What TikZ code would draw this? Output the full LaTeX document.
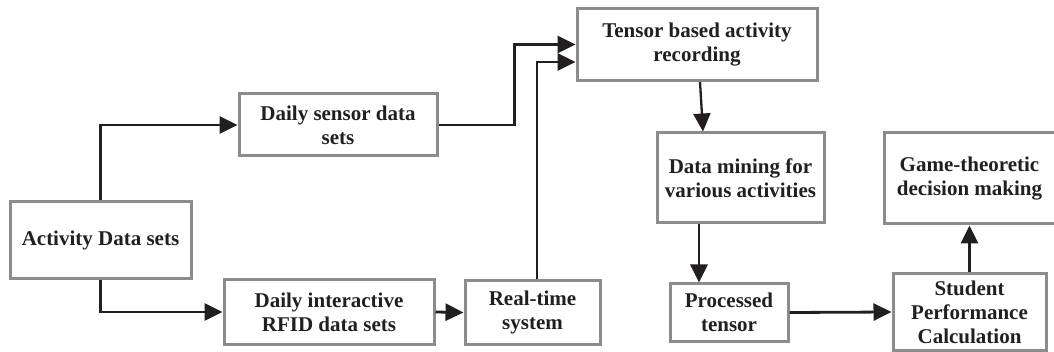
\documentclass[tikz,border=0pt]{standalone}
\usepackage{fontspec}
\setmainfont{Liberation Serif}
\usetikzlibrary{arrows.meta}
\definecolor{ink}{HTML}{231F20}
\definecolor{frame}{HTML}{8C8C8C}
\tikzset{
  stage/.style={draw=frame, line width=3pt, rectangle, inner sep=0pt,
    align=center, text=ink,
    font=\fontsize{21pt}{24pt}\selectfont\bfseries},
  flow/.style={draw=ink, line width=2.8pt,
    -{Triangle[length=18pt,width=17pt]}, fill=none}
}
\begin{document}
\begin{tikzpicture}[x=1pt,y=-1pt]
\useasboundingbox (0,0) rectangle (1054,352);

% process stages
\node[stage, minimum width=181pt, minimum height=77pt] (act) at (100.5,240.5) {Activity Data sets};
\node[stage, minimum width=198pt, minimum height=62pt] (sensor) at (338,125) {Daily sensor data\\sets};
\node[stage, minimum width=210pt, minimum height=64pt] (rfid) at (329,312) {Daily interactive\\RFID data sets};
\node[stage, minimum width=135pt, minimum height=63pt] (rt) at (532.5,312.5) {Real-time\\system};
\node[stage, minimum width=240pt, minimum height=72pt] (tensor) at (697,44.5) {Tensor based activity\\recording};
\node[stage, minimum width=167pt, minimum height=90pt] (mining) at (740.5,178) {Data mining for\\various activities};
\node[stage, minimum width=118pt, minimum height=57pt] (proc) at (729,312.5) {Processed\\tensor};
\node[stage, minimum width=153pt, minimum height=76pt] (student) at (969.5,312) {Student\\Performance\\Calculation};
\node[stage, minimum width=171pt, minimum height=91pt] (game) at (969.5,178.5) {Game-theoretic\\decision making};

% connectors
\draw[flow] (act.north) |- (sensor.west);
\draw[flow] (act.south) |- (rfid.west);
\draw[flow] (rfid.east) -- (rt.west);
\draw[flow] (sensor.east) -- ++(76,0) |- (tensor.west);
\draw[flow] ([xshift=4.5pt]rt.north) |- ([yshift=-17.5pt]tensor.west);
\draw[flow, line width=2.3pt] ([xshift=3pt]tensor.south) -- ([xshift=-37.5pt]mining.north);
\draw[flow] ([xshift=-41.5pt]mining.south) -- ([xshift=-30pt]proc.north);
\draw[flow] (proc.east) -- (student.west);
\draw[flow] (student.north) -- (game.south);
\end{tikzpicture}
\end{document}
